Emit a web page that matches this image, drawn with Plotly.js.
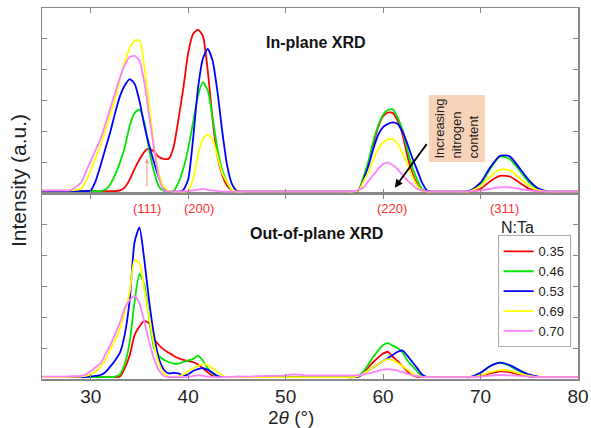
<!DOCTYPE html>
<html>
<head>
<meta charset="utf-8">
<script src="https://cdn.plot.ly/plotly-3.0.1.min.js"></script>
<style>html,body{margin:0;padding:0;background:#fff;}#chart{width:591px;height:428px;}</style>
</head>
<body>
<div id="chart"></div>
<script>
// 2-theta grid (degrees)
const twoTheta = [
  25,26,27,28,
  29,29.5,30,30.5,31,31.5,32,32.5,33,33.5,34,34.5,35,35.5,36,36.5,37,37.5,38,38.5,39,39.5,40,40.5,41,41.5,42,42.5,43,43.5,44,44.5,45,
  46,47,48,49,50,51,52,53,54,55,56,
  57,57.5,58,58.5,59,59.5,60,60.5,61,61.5,62,62.5,63,63.5,64,64.5,65,
  66,67,68,
  69,70,71,72,73,74,75,76,
  77,78,79,80
];
const seriesNames = ['0.35','0.46','0.53','0.69','0.70'];

// In-plane XRD intensities (a.u.)
const inRed = [
  0.08,0.08,0.08,0.08,
  0.08,0.08,0.08,0.08,0.08,0.08,0.08,0.08,0.1,0.2,0.45,0.8,1.1,1.35,1.46,1.35,1.18,1.12,1.12,1.5,2.4,3.4,4.55,5.15,5.3,5.1,4.0,2.4,1.2,0.6,0.25,0.1,0.06,
  0.06,0.06,0.06,0.06,0.06,0.06,0.06,0.06,0.06,0.06,0.06,
  0.06,0.1,0.5,1.0,1.6,2.15,2.5,2.62,2.6,2.35,1.9,1.2,0.65,0.3,0.1,0.06,0.06,
  0.06,0.06,0.06,
  0.06,0.15,0.4,0.57,0.55,0.35,0.15,0.07,
  0.06,0.06,0.06,0.06
];
const inGreen = [
  0.08,0.08,0.08,0.08,
  0.08,0.08,0.08,0.08,0.08,0.12,0.3,0.6,1.0,1.5,2.19,2.6,2.72,2.3,1.4,0.7,0.22,0.08,0.06,0.08,0.35,0.8,1.45,2.3,3.15,3.6,3.35,2.45,1.45,0.75,0.36,0.1,0.06,
  0.06,0.06,0.06,0.06,0.06,0.06,0.06,0.06,0.06,0.06,0.06,
  0.06,0.12,0.55,1.05,1.7,2.2,2.55,2.7,2.72,2.45,2.05,1.4,0.85,0.45,0.15,0.07,0.06,
  0.06,0.06,0.06,
  0.08,0.3,0.8,1.2,1.12,0.75,0.35,0.12,
  0.06,0.06,0.06,0.06
];
const inBlue = [
  0.08,0.08,0.08,0.08,
  0.08,0.08,0.1,0.4,0.9,1.45,1.98,2.6,3.15,3.5,3.7,3.55,3.0,2.2,1.55,1.0,0.5,0.15,0.06,0.06,0.06,0.12,0.45,1.76,3.38,4.35,4.68,4.3,3.3,2.0,0.9,0.3,0.08,
  0.06,0.06,0.06,0.06,0.06,0.06,0.06,0.06,0.06,0.06,0.06,
  0.06,0.1,0.45,0.9,1.45,1.9,2.15,2.25,2.3,2.25,2.0,1.6,1.15,0.75,0.35,0.1,0.06,
  0.06,0.06,0.06,
  0.1,0.35,0.85,1.22,1.2,0.82,0.42,0.15,
  0.06,0.06,0.06,0.06
];
const inYellow = [
  0.1,0.1,0.1,0.1,
  0.15,0.4,0.75,1.15,1.55,2.05,2.55,3.05,3.7,4.25,4.7,4.95,4.95,4.1,2.85,1.55,0.65,0.2,0.08,0.06,0.06,0.06,0.08,0.47,1.23,1.76,1.9,1.75,1.2,0.65,0.36,0.12,0.06,
  0.06,0.06,0.06,0.06,0.06,0.06,0.06,0.06,0.06,0.06,0.06,
  0.06,0.1,0.4,0.7,1.1,1.45,1.65,1.75,1.76,1.6,1.3,0.95,0.55,0.25,0.1,0.06,0.06,
  0.06,0.06,0.06,
  0.08,0.25,0.55,0.78,0.75,0.5,0.25,0.1,
  0.06,0.06,0.06,0.06
];
const inPink = [
  0.1,0.1,0.1,0.12,
  0.35,0.7,1.05,1.4,1.76,2.25,2.75,3.25,3.75,4.15,4.42,4.45,4.3,3.6,2.5,1.45,0.5,0.1,0.06,0.06,0.06,0.07,0.08,0.1,0.12,0.15,0.12,0.1,0.08,0.06,0.06,0.06,0.06,
  0.06,0.06,0.06,0.06,0.06,0.06,0.06,0.06,0.06,0.06,0.06,
  0.08,0.12,0.2,0.4,0.6,0.8,0.95,1.0,0.92,0.78,0.6,0.42,0.28,0.15,0.1,0.07,0.06,
  0.06,0.06,0.06,
  0.07,0.1,0.15,0.2,0.2,0.15,0.1,0.07,
  0.06,0.06,0.06,0.06
];

// Out-of-plane XRD intensities (a.u.)
const outRed = [
  0.06,0.06,0.06,0.06,
  0.06,0.06,0.06,0.06,0.06,0.06,0.06,0.06,0.08,0.35,0.77,1.42,1.7,1.88,1.8,1.3,1.1,0.95,0.85,0.75,0.67,0.62,0.58,0.55,0.47,0.35,0.22,0.1,0.06,0.06,0.06,0.06,0.06,
  0.06,0.06,0.06,0.06,0.06,0.06,0.06,0.06,0.06,0.06,0.06,
  0.06,0.1,0.2,0.38,0.55,0.7,0.82,0.88,0.72,0.58,0.42,0.25,0.12,0.07,0.06,0.06,0.06,
  0.06,0.06,0.06,
  0.06,0.1,0.18,0.25,0.22,0.14,0.08,0.06,
  0.06,0.06,0.06,0.06
];
const outGreen = [
  0.06,0.06,0.06,0.06,
  0.06,0.06,0.06,0.06,0.06,0.06,0.06,0.08,0.15,0.5,1.2,2.5,3.4,3.05,1.95,1.0,0.75,0.62,0.55,0.5,0.5,0.55,0.6,0.65,0.75,0.6,0.35,0.18,0.08,0.06,0.06,0.06,0.06,
  0.06,0.06,0.06,0.06,0.06,0.06,0.06,0.06,0.06,0.06,0.06,
  0.06,0.12,0.25,0.48,0.72,0.92,1.1,1.16,1.08,1.0,0.85,0.6,0.42,0.25,0.1,0.06,0.06,
  0.06,0.06,0.06,
  0.06,0.2,0.42,0.53,0.42,0.25,0.12,0.07,
  0.06,0.06,0.06,0.06
];
const outBlue = [
  0.06,0.06,0.06,0.06,
  0.06,0.06,0.08,0.1,0.13,0.22,0.4,0.6,0.85,1.45,2.55,4.43,4.9,3.85,2.5,1.4,0.65,0.3,0.18,0.2,0.18,0.12,0.15,0.26,0.32,0.35,0.3,0.2,0.1,0.06,0.06,0.06,0.06,
  0.06,0.06,0.06,0.06,0.06,0.06,0.06,0.06,0.06,0.06,0.06,
  0.06,0.08,0.18,0.28,0.38,0.48,0.58,0.68,0.78,0.88,0.92,0.75,0.55,0.35,0.15,0.07,0.06,
  0.06,0.06,0.06,
  0.07,0.2,0.42,0.53,0.45,0.28,0.14,0.07,
  0.06,0.06,0.06,0.06
];
const outYellow = [
  0.06,0.06,0.06,0.07,
  0.08,0.1,0.15,0.25,0.4,0.62,0.95,1.25,1.63,2.17,2.82,3.85,3.75,2.9,2.0,1.1,0.5,0.18,0.08,0.06,0.08,0.15,0.25,0.35,0.42,0.48,0.45,0.35,0.22,0.12,0.06,0.06,0.06,
  0.06,0.06,0.06,0.06,0.06,0.06,0.06,0.06,0.06,0.06,0.06,
  0.06,0.1,0.18,0.28,0.38,0.48,0.58,0.64,0.6,0.52,0.42,0.3,0.18,0.1,0.06,0.06,0.06,
  0.06,0.06,0.06,
  0.06,0.12,0.22,0.29,0.26,0.18,0.1,0.06,
  0.06,0.06,0.06,0.06
];
const outPink = [
  0.08,0.08,0.08,0.09,
  0.1,0.15,0.25,0.38,0.5,0.8,1.1,1.45,1.83,2.3,2.55,2.68,2.45,1.85,1.2,0.65,0.28,0.1,0.06,0.06,0.06,0.06,0.07,0.1,0.12,0.1,0.08,0.07,0.06,0.06,0.07,0.07,0.08,
  0.08,0.09,0.1,0.1,0.12,0.15,0.12,0.12,0.12,0.12,0.12,
  0.12,0.13,0.15,0.18,0.22,0.26,0.3,0.32,0.3,0.27,0.22,0.17,0.12,0.09,0.07,0.06,0.06,
  0.06,0.06,0.06,
  0.06,0.08,0.11,0.13,0.12,0.1,0.08,0.06,
  0.06,0.06,0.06,0.06
];

const colors = ['#ff0000','#00e600','#0000ff','#ffff00','#ff80ff'];
const inSets = [inRed,inGreen,inBlue,inYellow,inPink];
const outSets = [outRed,outGreen,outBlue,outYellow,outPink];

const traces = [];
inSets.forEach((ys,i)=>traces.push({
  x: twoTheta, y: ys, xaxis:'x2', yaxis:'y2', type:'scatter', mode:'lines',
  name: seriesNames[i], showlegend:false,
  line:{color:colors[i], width:1.8, shape:'spline', smoothing:0.6}
}));
outSets.forEach((ys,i)=>traces.push({
  x: twoTheta, y: ys, xaxis:'x', yaxis:'y', type:'scatter', mode:'lines',
  name: seriesNames[i], showlegend:true,
  line:{color:colors[i], width:1.8, shape:'spline', smoothing:0.6}
}));

const F = 'Liberation Sans, Arial, sans-serif';
const axisCommon = {
  showgrid:false, zeroline:false, showline:true, linecolor:'#888', linewidth:1.5,
  mirror:'ticks', ticks:'inside', ticklen:5, tickcolor:'#888', tickwidth:1
};
const layout = {
  width:591, height:428,
  margin:{l:42, r:13, t:8, b:49},
  paper_bgcolor:'#fff', plot_bgcolor:'#fff',
  font:{family:F, color:'#222'},
  showlegend:true,
  legend:{x:0.85, y:0.387, xanchor:'left', yanchor:'top', bgcolor:'#fff',
    bordercolor:'#aaa', borderwidth:1, font:{family:F, size:13, color:'#222'},
    tracegroupgap:0, itemwidth:30},
  xaxis: Object.assign({}, axisCommon, {domain:[0,1], range:[25,80], anchor:'y',
    tickvals:[30,40,50,60,70,80], ticktext:['30','40','50','60','70','80'],
    tickfont:{family:F, size:19, color:'#262626'}}),
  xaxis2: Object.assign({}, axisCommon, {domain:[0,1], range:[25,80], anchor:'y2', matches:'x',
    tickvals:[30,40,50,60,70,80], showticklabels:false}),
  yaxis: Object.assign({}, axisCommon, {domain:[0,0.5], range:[0,6], tickvals:[1,2,3,4,5], showticklabels:false}),
  yaxis2: Object.assign({}, axisCommon, {domain:[0.5,1], range:[0,6], tickvals:[1,2,3,4,5], showticklabels:false}),
  annotations:[
    {text:'Intensity (a.u.)', xref:'paper', yref:'paper', x:-0.045, y:0.536, textangle:-90,
     showarrow:false, xanchor:'center', yanchor:'middle', font:{family:F, size:21, color:'#222'}},
    {text:'2<i>θ</i> (°)', xref:'paper', yref:'paper', x:0.4646, y:-0.1051,
     showarrow:false, xanchor:'center', yanchor:'middle', font:{family:F, size:19, color:'#222'}},
    {text:'<b>In-plane XRD</b>', xref:'paper', yref:'paper', x:0.512, y:0.906,
     showarrow:false, xanchor:'center', yanchor:'middle', font:{family:F, size:16, color:'#111'}},
    {text:'<b>Out-of-plane XRD</b>', xref:'paper', yref:'paper', x:0.513, y:0.3935,
     showarrow:false, xanchor:'center', yanchor:'middle', font:{family:F, size:16, color:'#111'}},
    {text:'(111)', xref:'x', yref:'y', x:35.8, y:5.52, showarrow:false, font:{family:F, size:13, color:'#ff3030'}},
    {text:'(200)', xref:'x', yref:'y', x:41.1, y:5.52, showarrow:false, font:{family:F, size:13, color:'#ff3030'}},
    {text:'(220)', xref:'x', yref:'y', x:60.9, y:5.52, showarrow:false, font:{family:F, size:13, color:'#ff3030'}},
    {text:'(311)', xref:'x', yref:'y', x:72.5, y:5.52, showarrow:false, font:{family:F, size:13, color:'#ff3030'}},
    {text:'N:Ta', xref:'paper', yref:'paper', x:0.887, y:0.408, showarrow:false,
     xanchor:'center', yanchor:'middle', font:{family:F, size:16, color:'#222'}},
    {text:'Increasing<br>nitrogen<br>content', xref:'paper', yref:'paper', x:0.7733, y:0.6765,
     textangle:-90, align:'left', showarrow:false, xanchor:'center', yanchor:'middle',
     bgcolor:'#f9d3b7', borderpad:3, font:{family:F, size:13, color:'#222'}},
    {text:'', xref:'x2', yref:'y2', x:61.2, y:0.19, ax:33, ay:-45, showarrow:true,
     arrowhead:2, arrowsize:0.9, arrowwidth:1.8, arrowcolor:'#000'},
    {text:'', xref:'x2', yref:'y2', x:35.77, y:1.13, ax:0, ay:30, showarrow:true,
     arrowhead:2, arrowsize:0.8, arrowwidth:1.2, arrowcolor:'#f4a0a0'}
  ]
};
Plotly.newPlot('chart', traces, layout, {staticPlot:true, displayModeBar:false});
</script>
</body>
</html>
